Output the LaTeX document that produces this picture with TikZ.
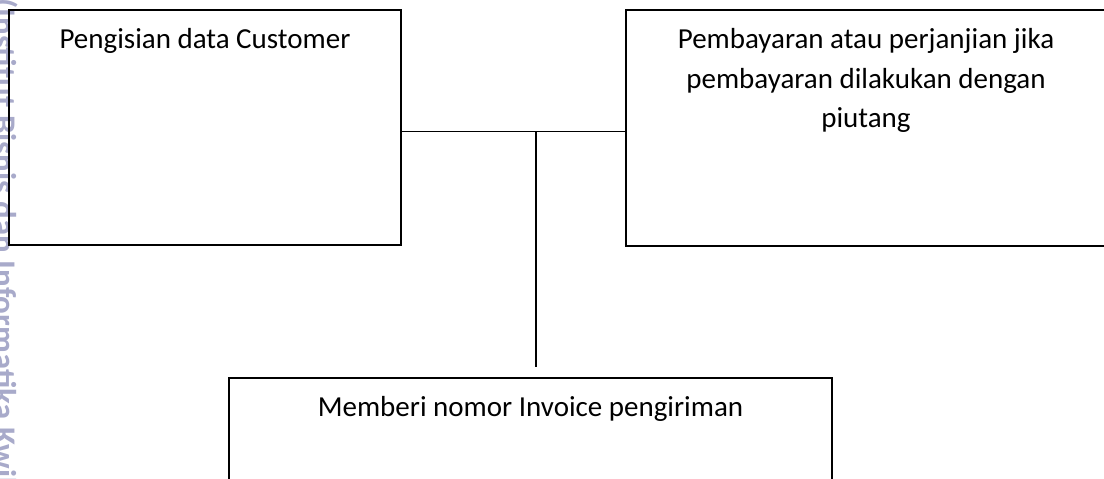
\documentclass[tikz,border=0pt]{standalone}
\usepackage{fontspec}
\setmainfont{Carlito}
\usepackage{tikz}
\definecolor{wmgray}{RGB}{168,170,202}
% text at the top of a box: width, height, lines
\newcommand{\boxlines}[3]{\parbox[t][#2][t]{#1}{\centering\rule{0pt}{38pt}#3}}

\begin{document}
\begin{tikzpicture}[
    x=1pt, y=-1pt,
    stepbox/.style={rectangle, draw=black, line width=1.2pt, inner sep=0pt,
        font=\fontsize{29}{40}\selectfont},
    link/.style={draw=black, line width=1.1pt},
    watermark/.style={text=wmgray, rotate=-90, inner sep=0pt,
        font=\bfseries\fontsize{33}{33}\selectfont}
]
\useasboundingbox (0,0) rectangle (1104,479);
\clip (0,0) rectangle (1104,479);

\node (watermark) [watermark, anchor=base west] at (-6,-2) {(Institut Bisnis dan Informatika Kwik};

\node (custBox) [stepbox] at (205,127.5)
    {\boxlines{392pt}{235pt}{Pengisian data Customer}};
\node (payBox) [stepbox] at (866,128)
    {\boxlines{480pt}{236pt}{Pembayaran atau perjanjian jika\\
        pembayaran dilakukan dengan\\ piutang}};
\node (invBox) [stepbox] at (530.5,458)
    {\boxlines{603pt}{160pt}{Memberi nomor Invoice pengiriman}};

\coordinate (junction) at (536,131.5);
\draw [link] (custBox.east |- junction) -- (payBox.west |- junction);
\draw [link, shorten >=10pt] (junction) -- (junction |- invBox.north);

\end{tikzpicture}
\end{document}
